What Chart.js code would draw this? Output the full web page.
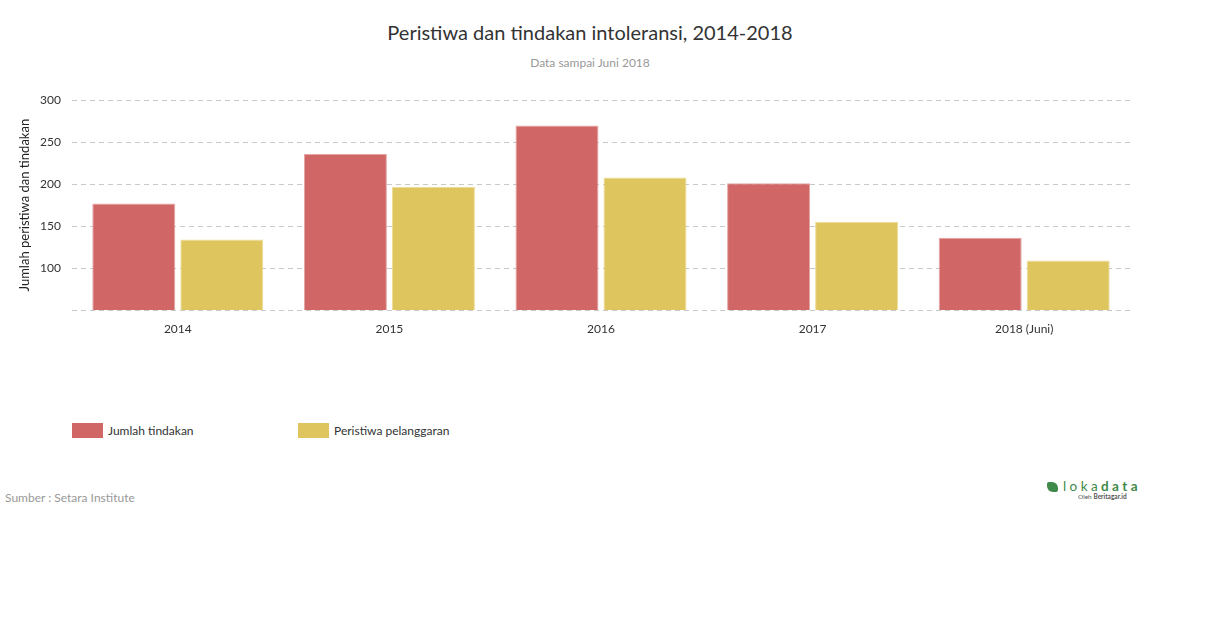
<!DOCTYPE html>
<html><head><meta charset="utf-8">
<script src="https://cdn.jsdelivr.net/npm/chart.js@4"></script>
<style>
html,body{margin:0;padding:0;background:#fff;font-family:Lato,"Open Sans",sans-serif;}
#wrap{position:relative;width:1210px;height:628px;overflow:hidden;}
#title{position:absolute;left:0;width:1180px;top:20px;text-align:center;font-size:20px;color:#333;}
#sub{position:absolute;left:0;width:1180px;top:55px;text-align:center;font-size:12px;color:#999;}
#cw{position:absolute;left:0;top:82px;width:1210px;height:268px;}
#legend{position:absolute;top:422px;left:72px;font-size:12px;color:#333;}
.li{position:absolute;top:0;white-space:nowrap;}
.sw{display:inline-block;width:31px;height:15px;vertical-align:middle;margin-right:5px;}
.li span{vertical-align:middle;}
#src{position:absolute;left:5px;top:490px;font-size:12px;color:#999;}
#logo{position:absolute;left:1047px;top:478px;color:#3f8a4a;}
</style></head>
<body><div id="wrap">
<div id="title">Peristiwa dan tindakan intoleransi, 2014-2018</div>
<div id="sub">Data sampai Juni 2018</div>
<div id="cw"><canvas id="c"></canvas></div>
<div id="legend"></div>
<div id="src">Sumber : Setara Institute</div>
<div id="logo"><div style="font-size:13.5px;letter-spacing:3.4px;"><span style="display:inline-block;width:11px;height:10px;background:#3f8a4a;border-radius:2px 6px 2px 6px;margin-right:5px;vertical-align:-1px"></span>loka<b>data</b></div><div style="font-size:6.5px;color:#555;margin-left:31px;margin-top:-1px">Oleh <b>Beritagar.id</b></div></div>
</div>
<script>
const categories = ["2014","2015","2016","2017","2018 (Juni)"];
const seriesNames = ["Jumlah tindakan","Peristiwa pelanggaran"];
const jumlahTindakan = [177, 236, 270, 201, 136];
const peristiwaPelanggaran = [134, 197, 208, 155, 109];
const yTicks = [50,100,150,200,250,300];
const colors = ["#d06666","#dec55e"];
const borders = ["#e5a4a4","#eedc98"];

const ds = [jumlahTindakan, peristiwaPelanggaran].map((d,i)=>({
  label: seriesNames[i], data: d, backgroundColor: colors[i], borderColor: borders[i],
  borderWidth: 1, categoryPercentage: 0.832, barPercentage: 0.943
}));

const leg = document.getElementById('legend');
const legX = [0, 226];
ds.forEach((d,i)=>{
  const el = document.createElement('div'); el.className='li'; el.style.left=legX[i]+'px';
  el.innerHTML = '<div class="sw" style="background:'+d.backgroundColor+'"></div><span>'+d.label+'</span>';
  leg.appendChild(el);
});

new Chart(document.getElementById('c'), {
  type:'bar',
  data:{labels:categories, datasets:ds},
  options:{
    responsive:true, maintainAspectRatio:false, animation:false,
    layout:{padding:{top:2,right:80,left:0,bottom:0}},
    plugins:{legend:{display:false}, title:{display:false}, tooltip:{enabled:false}},
    scales:{
      x:{
        grid:{display:false}, border:{display:false},
        ticks:{color:'#333', font:{family:'Lato', size:12}, padding:4},
        afterFit:(s)=>{s.height=40;}
      },
      y:{
        min:50, max:300,
        afterBuildTicks:(s)=>{s.ticks = yTicks.map(v=>({value:v}));},
        afterFit:(s)=>{s.width=72;},
        grid:{color:'#c8c8c8', drawTicks:false, lineWidth:1},
        border:{display:false, dash:[5,4]},
        ticks:{color:'#333', font:{family:'Lato', size:12}, padding:11,
          callback:(v)=> v===50 ? '' : v},
        title:{display:true, text:'Jumlah peristiwa dan tindakan', color:'#222',
          font:{family:'Lato', size:13}, padding:{top:17,bottom:0}}
      }
    }
  }
});
</script>
</body></html>
